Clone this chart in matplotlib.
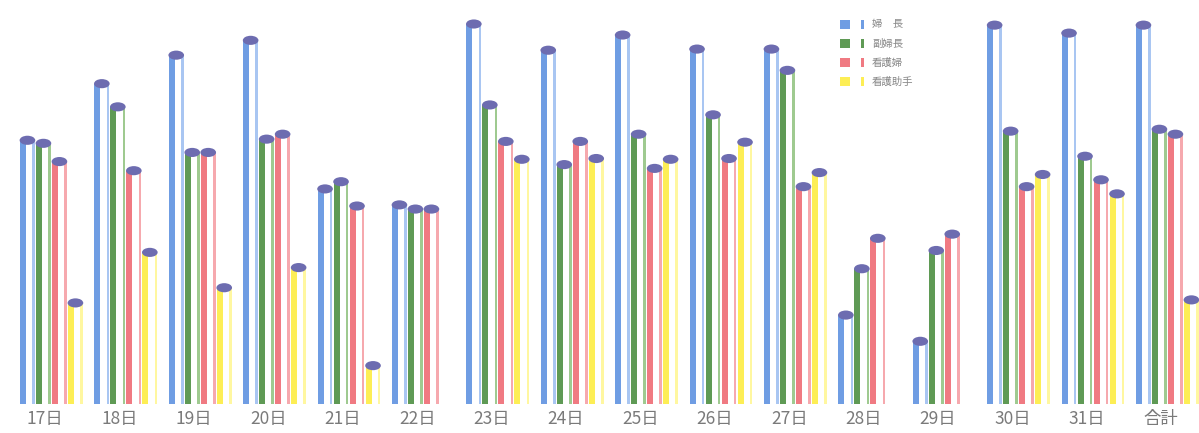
import numpy as np
import matplotlib
matplotlib.use('Agg')
from matplotlib import pyplot as plt
from matplotlib.patches import Ellipse, Rectangle

plt.rcParams['font.family'] = ['Noto Sans CJK JP', 'DejaVu Sans']

days = ['17日', '18日', '19日', '20日', '21日', '22日', '23日', '24日',
        '25日', '26日', '27日', '28日', '29日', '30日', '31日', '合計']
series_names = ['婦　長', '副婦長', '看護婦', '看護助手']

fuchou = [69.4, 84.3, 91.8, 95.7, 56.6, 52.4, 100.0, 93.1,
          97.1, 93.4, 93.4, 23.4, 16.5, 99.7, 97.6, 99.7]
fukufuchou = [68.6, 78.2, 66.2, 69.7, 58.5, 51.3, 78.7, 63.0,
              71.0, 76.1, 87.8, 35.6, 40.4, 71.8, 65.2, 72.3]
kangofu = [63.8, 61.4, 66.2, 71.0, 52.1, 51.3, 69.1, 69.1,
           62.0, 64.6, 57.2, 43.6, 44.7, 57.2, 59.0, 71.0]
joshu = [26.6, 39.9, 30.6, 35.9, 10.1, np.nan, 64.4, 64.6,
         64.4, 68.9, 60.9, np.nan, np.nan, 60.4, 55.3, 27.4]

series = [fuchou, fukufuchou, kangofu, joshu]
main_colors = ['#6f9de3', '#5f9a55', '#f07a82', '#fdee55']
edge_colors = ['#a9c6f2', '#9fca90', '#f6a9ae', '#fff7a0']
cap_color = '#6d6cb0'

fig = plt.figure(figsize=(11.99, 4.33), dpi=100)
ax = fig.add_axes([0, 29 / 433, 1, 404 / 433])

x = np.arange(len(days))
step = 0.215      # 棒の間隔
bw = 0.2          # 棒の幅
for j, (vals, c, ec) in enumerate(zip(series, main_colors, edge_colors)):
    vals = np.array(vals, dtype=float)
    left = x + j * step
    # 左側の濃い帯、右側の細い帯で円柱風に
    ax.bar(left, vals, width=bw * 0.4, align='edge', color=c, linewidth=0)
    ax.bar(left + bw * 0.82, vals, width=bw * 0.18, align='edge', color=ec, linewidth=0)
    for xl, v in zip(left, vals):
        if np.isnan(v):
            continue
        ax.add_patch(Ellipse((xl + bw / 2, v), bw * 1.05, 2.4,
                             facecolor=cap_color, edgecolor='none', zorder=3))

ax.set_xlim(-20 / 74.4, (1199 - 20) / 74.4)
ax.set_ylim(0, 100 * 404 / 380)
ax.set_xticks(x + 0.34)
ax.set_xticklabels(days, fontsize=12.5, color='#7a7a7a')
ax.tick_params(axis='x', length=0, pad=4)
ax.set_yticks([])
for s in ax.spines.values():
    s.set_visible(False)

# 凡例
for k, (name, c, ec) in enumerate(zip(series_names, main_colors, edge_colors)):
    ytop = 433 - (20 + k * 19)
    fig.patches.append(Rectangle((840 / 1199, (ytop - 9) / 433), 10 / 1199, 9 / 433,
                                 transform=fig.transFigure, facecolor=c,
                                 edgecolor='none'))
    fig.patches.append(Rectangle((861 / 1199, (ytop - 9) / 433), 2.5 / 1199, 9 / 433,
                                 transform=fig.transFigure, facecolor=c,
                                 edgecolor='none'))
    fig.text(872 / 1199, (ytop - 4.5) / 433, name, fontsize=7.5, color='#888888',
             va='center', ha='left')

plt.savefig('out.png', dpi=100)
